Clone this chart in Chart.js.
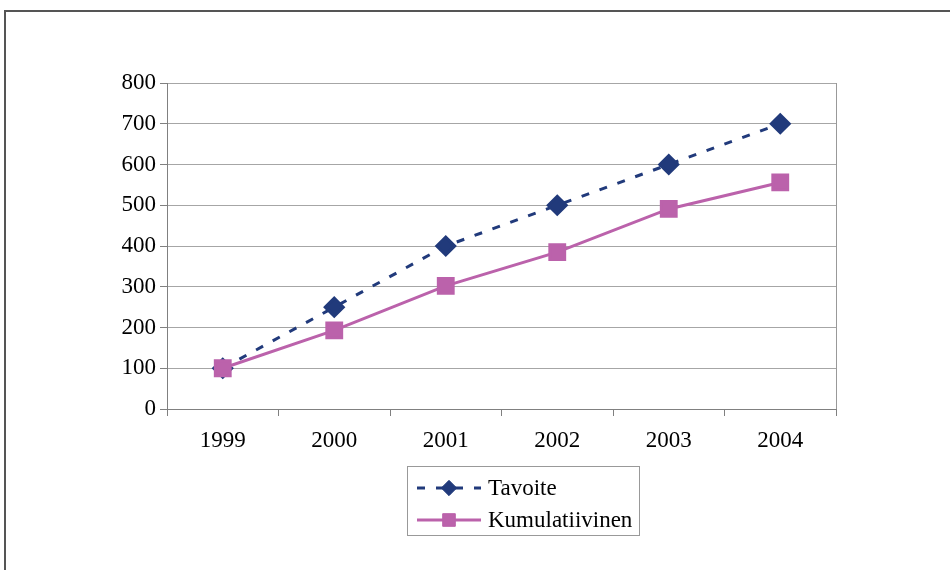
<!DOCTYPE html>
<html>
<head>
<meta charset="utf-8">
<script src="https://cdn.jsdelivr.net/npm/chart.js@4"></script>
<style>
  body { margin: 0; background: #fff; }
  canvas { display: block; }
</style>
</head>
<body>
<canvas id="myChart" width="950" height="570"></canvas>
<script>
    const years = ['1999', '2000', '2001', '2002', '2003', '2004'];
    const tavoite = [100, 250, 400, 500, 600, 700];
    const kumulatiivinen = [100, 193, 302, 385, 491, 556];

    const tickFont = { family: 'Liberation Serif', size: 23 };

    // frame round the whole picture (top and left edges only are visible)
    const framePlugin = {
      id: 'frame',
      beforeDraw(chart) {
        const ctx = chart.ctx;
        ctx.save();
        ctx.strokeStyle = '#555';
        ctx.lineWidth = 2;
        ctx.beginPath();
        ctx.moveTo(5, 570);
        ctx.lineTo(5, 11);
        ctx.lineTo(950, 11);
        ctx.stroke();
        ctx.restore();
      },
      afterDatasetsDraw(chart) {
        // right edge of the plot area
        const a = chart.chartArea;
        const ctx = chart.ctx;
        ctx.save();
        ctx.strokeStyle = '#999';
        ctx.lineWidth = 1;
        ctx.beginPath();
        ctx.moveTo(Math.round(a.right) + 0.5, a.top);
        ctx.lineTo(Math.round(a.right) + 0.5, a.bottom);
        ctx.stroke();
        ctx.restore();
      }
    };

    // legend with line sample + marker, boxed, under the x axis
    const legendPlugin = {
      id: 'boxLegend',
      afterDraw(chart) {
        const ctx = chart.ctx;
        const x0 = 407, y0 = 466, w = 232, h = 69;
        ctx.save();
        ctx.strokeStyle = '#999';
        ctx.lineWidth = 1;
        ctx.strokeRect(x0 + 0.5, y0 + 0.5, w, h);
        chart.data.datasets.forEach((ds, i) => {
          const y = y0 + 22 + i * 32;
          ctx.strokeStyle = ds.borderColor;
          ctx.lineWidth = ds.borderWidth;
          ctx.setLineDash(ds.borderDash || []);
          ctx.beginPath();
          ctx.moveTo(417, y);
          ctx.lineTo(481, y);
          ctx.stroke();
          ctx.setLineDash([]);
          ctx.fillStyle = ds.pointBackgroundColor;
          ctx.strokeStyle = ds.pointBorderColor;
          ctx.lineWidth = 1;
          Chart.helpers.drawPoint(ctx, {
            pointStyle: ds.pointStyle, radius: ds.pointRadius * 0.85, rotation: 0, borderWidth: 1
          }, 449, y);
          ctx.fillStyle = '#000';
          ctx.font = '23px "Liberation Serif"';
          ctx.textBaseline = 'middle';
          ctx.fillText(ds.label, 488, y + 1);
        });
        ctx.restore();
      }
    };

    const data = {
      labels: years,
      datasets: [{
        label: 'Tavoite',
        data: tavoite,
        order: 1,
        borderColor: '#213a7b',
        backgroundColor: '#213a7b',
        borderWidth: 3,
        borderDash: [8, 11],
        pointStyle: 'rectRot',
        pointRadius: 9,
        pointBackgroundColor: '#213a7b',
        pointBorderColor: '#213a7b',
        tension: 0
      }, {
        label: 'Kumulatiivinen',
        data: kumulatiivinen,
        order: 0,
        borderColor: '#bb62ab',
        backgroundColor: '#bb62ab',
        borderWidth: 3,
        pointStyle: 'rect',
        pointRadius: 10.5,
        pointBackgroundColor: '#bb62ab',
        pointBorderColor: '#bb62ab',
        tension: 0
      }]
    };

    const config = {
      type: 'line',
      data: data,
      options: {
        responsive: false,
        animation: false,
        layout: { padding: { left: 0, top: 83, right: 114, bottom: 111 } },
        plugins: {
          legend: { display: false },
          tooltip: { enabled: false }
        },
        scales: {
          x: {
            offset: true,
            grid: { offset: true, drawOnChartArea: false, tickLength: 7, color: '#808080' },
            border: { color: '#808080' },
            ticks: { font: tickFont, color: '#000', padding: 11, maxRotation: 0 },
            afterFit: s => { s.height = 50; }
          },
          y: {
            min: 0,
            max: 800,
            ticks: { stepSize: 100, font: tickFont, color: '#000', padding: 4 },
            grid: { color: '#a6a6a6', tickLength: 7, tickColor: '#808080' },
            border: { color: '#808080' },
            afterFit: s => { s.width = 167; }
          }
        }
      },
      plugins: [framePlugin, legendPlugin]
    };

const myChart = new Chart(
  document.getElementById('myChart'),
  config
);
</script>
</body>
</html>
